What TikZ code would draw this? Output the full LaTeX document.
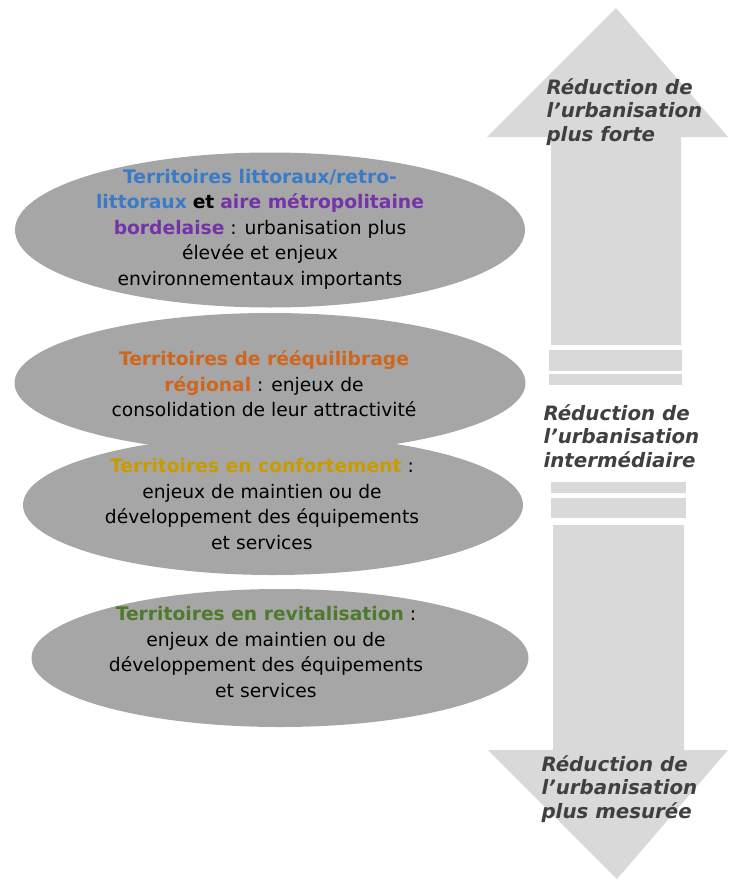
\documentclass[tikz,border=0pt]{standalone}
\usepackage{fontspec}
\setmainfont{DejaVu Sans}
\usetikzlibrary{shapes.geometric,positioning}
\definecolor{flechegris}{HTML}{D9D9D9}
\definecolor{ovalegris}{HTML}{A6A6A6}
\definecolor{txtgris}{HTML}{404040}
\definecolor{littoral}{HTML}{3A7BC8}
\definecolor{metropole}{HTML}{7434A8}
\definecolor{reequil}{HTML}{D0661C}
\definecolor{confort}{HTML}{C89B00}
\definecolor{revital}{HTML}{4E7A2E}
\tikzset{
  ovale/.style={ellipse,fill=ovalegris,inner sep=0pt},
  territoire/.style={align=center,inner sep=0pt,
    font=\fontsize{18.7}{25.5}\selectfont},
  reduction/.style={anchor=west,align=left,text=txtgris,
    font=\fontsize{19.8}{23.5}\selectfont\bfseries\itshape},
  bande/.style={fill=flechegris}
}
\begin{document}
\begin{tikzpicture}[x=1pt,y=-1pt]
\useasboundingbox (0,0) rectangle (728,880);
\begin{scope}
\fill[flechegris](616,8)--(728,137)--(681,137)--(681,345)--(551,345)--(551,137)--(487,137)--cycle;
\fill[bande](549,350)rectangle(682,371);
\fill[bande](549,374)rectangle(682,385);
\fill[bande](551,482)rectangle(686,493);
\fill[bande](551,498)rectangle(686,518);
\fill[flechegris](553,525)--(684,525)--(684,750)--(728,750)--(617,879)--(488,750)--(553,750)--cycle;
\end{scope}
\node[ovale,minimum width=510,minimum height=155](o1)at(270,230){};
\node[ovale,minimum width=511,minimum height=140](o2)at(270,383){};
\node[ovale,minimum width=500,minimum height=140](o3)at(273,505){};
\node[ovale,minimum width=497,minimum height=138](o4)at(280,658){};
\node[territoire](litt)at(260,229){%
\textcolor{littoral}{\bfseries Territoires littoraux/retro-}\\
\textcolor{littoral}{\bfseries littoraux} {\bfseries et} \textcolor{metropole}{\bfseries aire métropolitaine}\\
\textcolor{metropole}{\bfseries bordelaise} : urbanisation plus\\
élevée et enjeux\\
environnementaux importants};
\node[territoire](reeq)at(264,384){%
\textcolor{reequil}{\bfseries Territoires de rééquilibrage}\\
\textcolor{reequil}{\bfseries régional} : enjeux de\\
consolidation de leur attractivité};
\node[territoire](conf)at(262,504){%
\textcolor{confort}{\bfseries Territoires en confortement} :\\
enjeux de maintien ou de\\
développement des équipements\\
et services};
\node[territoire](revit)at(266,652){%
\textcolor{revital}{\bfseries Territoires en revitalisation} :\\
enjeux de maintien ou de\\
développement des équipements\\
et services};
\node[reduction](forte)at(543,112){Réduction de\\l’urbanisation\\plus forte};
\node[reduction](inter)at(540,436){Réduction de\\l’urbanisation\\intermédiaire};
\node[reduction](mesuree)at(538,789){Réduction de\\l’urbanisation\\plus mesurée};
\end{tikzpicture}
\end{document}
